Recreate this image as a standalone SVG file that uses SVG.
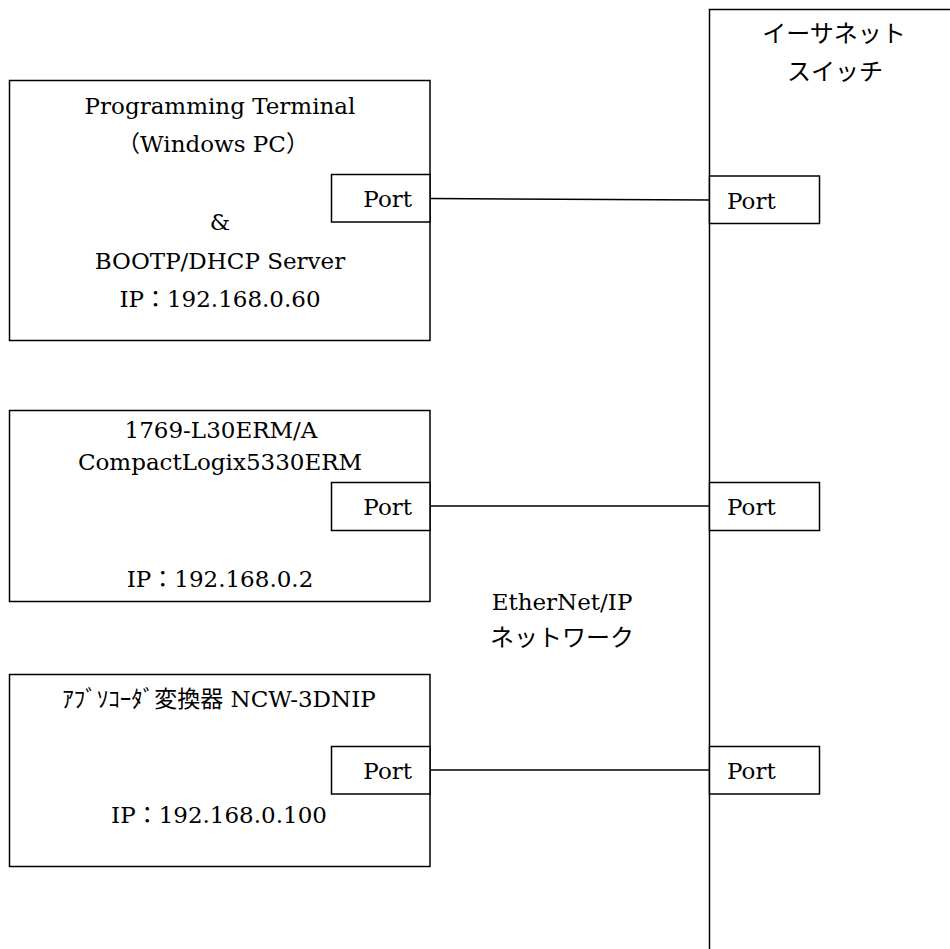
<svg xmlns="http://www.w3.org/2000/svg" width="950" height="949" viewBox="0 0 950 949">
<style>
.box{fill:#fff;stroke:#000;stroke-width:1.5}
.ln{fill:none;stroke:#000;stroke-width:1.5}
.t{font-family:"DejaVu Serif","Noto Sans CJK JP",serif;font-size:23px;fill:#000}
.c{text-anchor:middle}
.e{text-anchor:end}
.j{font-family:"Noto Sans CJK JP",sans-serif;font-size:24px;fill:#000;text-anchor:middle}
</style>
<rect width="950" height="949" fill="#fff"/>
<g id="switch">
<rect class="box" x="709.5" y="9.5" width="300" height="1000"/>
<text class="j" x="834" y="42">イーサネット</text>
<text class="j" x="835" y="80">スイッチ</text>
</g>
<g id="connectors">
<line class="ln" x1="430" y1="198.5" x2="709.5" y2="200"/>
<line class="ln" x1="430" y1="506" x2="709.5" y2="506"/>
<line class="ln" x1="430" y1="770" x2="709.5" y2="770"/>
</g>
<g id="pc">
<rect class="box" x="9.5" y="80.5" width="420.5" height="260"/>
<text class="t c" x="220" y="114">Programming Terminal</text>
<text class="t c" x="213" y="152">（Windows PC）</text>
<text class="t c" x="220" y="230">&amp;</text>
<text class="t c" x="220" y="268.5">BOOTP/DHCP Server</text>
<text class="t c" x="220" y="306.5">IP：192.168.0.60</text>
</g>
<g id="pc-port">
<rect class="box" x="331.5" y="174.5" width="98.5" height="47.5"/>
<text class="t e" x="412" y="207">Port</text>
</g>
<g id="plc">
<rect class="box" x="9.5" y="410.5" width="420.5" height="191"/>
<text class="t c" x="221" y="438">1769-L30ERM/A</text>
<text class="t c" x="220" y="470">CompactLogix5330ERM</text>
<text class="t c" x="220" y="587">IP：192.168.0.2</text>
</g>
<g id="plc-port">
<rect class="box" x="331.5" y="482.5" width="98.5" height="48"/>
<text class="t e" x="412" y="515">Port</text>
</g>
<g id="conv">
<rect class="box" x="9.5" y="674.5" width="420.5" height="192"/>
<text class="t c" x="219" y="707">ｱﾌﾞｿｺｰﾀﾞ変換器 NCW-3DNIP</text>
<text class="t c" x="219" y="823">IP：192.168.0.100</text>
</g>
<g id="conv-port">
<rect class="box" x="331.5" y="746.5" width="98.5" height="47.5"/>
<text class="t e" x="412" y="779">Port</text>
</g>
<g id="sw-port1">
<rect class="box" x="709.5" y="176" width="110" height="47.5"/>
<text class="t" x="727" y="208.5">Port</text>
</g>
<g id="sw-port2">
<rect class="box" x="709.5" y="482.5" width="110" height="48"/>
<text class="t" x="727" y="515">Port</text>
</g>
<g id="sw-port3">
<rect class="box" x="709.5" y="746.5" width="110" height="47.5"/>
<text class="t" x="727" y="779">Port</text>
</g>
<g id="network-label">
<text class="t c" x="562" y="610">EtherNet/IP</text>
<text class="j" x="562" y="646">ネットワーク</text>
</g>
</svg>
